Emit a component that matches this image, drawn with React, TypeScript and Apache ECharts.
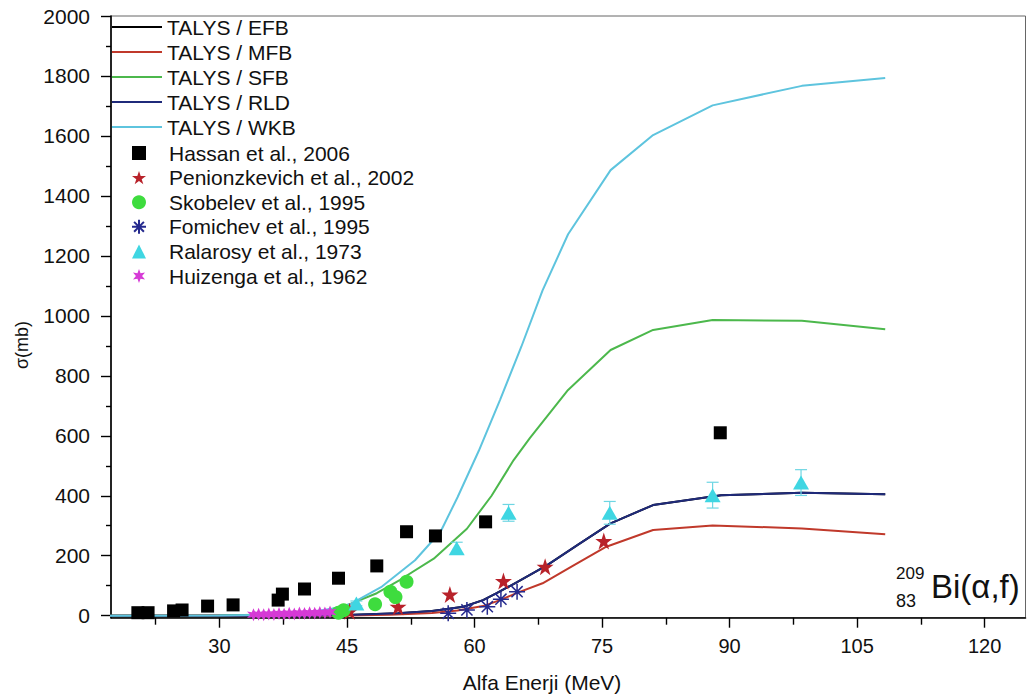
import React, { useEffect, useRef } from "react";
import * as echarts from "echarts";

// Axis ranges and tick positions
const xMin = 17.24;
const xMax = 124.8;
const yMin = -6.7;
const yMax = 2000;
const xMajorTicks = [30, 45, 60, 75, 90, 105, 120];
const xMinorTicks = [22.5, 37.5, 52.5, 67.5, 82.5, 97.5, 112.5];
const yMajorTicks = [0, 200, 400, 600, 800, 1000, 1200, 1400, 1600, 1800, 2000];
const yMinorTicks = [100, 300, 500, 700, 900, 1100, 1300, 1500, 1700, 1900];

// TALYS model curves (alpha energy in MeV, cross section in mb)
const efbE = [17, 40, 45, 51, 55, 58.7, 61, 62.6, 65, 68.5, 72.4, 76, 81, 89, 98.5, 108.3];
const efbS = [0, 0, 2, 8, 16, 30, 52, 75, 112, 168, 241, 308, 369, 402, 410, 405];

const mfbE = [17, 40, 45, 50, 55, 58, 61, 63, 65, 68, 71.5, 75.5, 81, 88, 98.5, 108.3];
const mfbS = [0, 0, 1, 3, 9, 17, 32, 52, 76, 108, 165, 230, 286, 301, 291, 272];

const sfbE = [17, 30, 38, 42, 44.6, 48.5, 51.2, 55.2, 59.1, 62, 64.6, 66.5, 71, 76, 81, 88, 98.5, 108.3];
const sfbS = [0, 1, 5, 15, 30, 75, 119, 190, 290, 400, 519, 592, 753, 886, 953, 986, 984, 955];

const rldE = [17, 40, 45, 51, 55, 58.7, 61, 62.6, 65, 68.5, 72.4, 76, 81, 89, 98.5, 108.3];
const rldS = [0, 0, 2, 8, 16, 30, 52, 75, 112, 168, 241, 308, 369, 402, 410, 405];

const wkbE = [17, 30, 35, 40, 43, 45.5, 49, 53, 56, 58, 60.5, 63, 65.5, 68, 71, 76, 81, 88, 98.5, 108.3];
const wkbS = [0, 1, 3, 10, 22, 40, 95, 185, 280, 395, 550, 720, 897, 1085, 1272, 1486, 1603, 1702, 1767, 1793];

// Experimental data
const hassanE = [20.4, 21.6, 24.6, 25.6, 28.6, 31.6, 36.9, 37.4, 40.0, 44.0, 48.5, 52.0, 55.4, 61.3, 88.9];
const hassanS = [10, 10, 16, 19, 32, 36, 52, 72, 89, 125, 166, 280, 266, 313, 610];

const penionE = [45.3, 51.0, 57.1, 63.4, 68.3, 75.2];
const penionS = [15, 30, 71, 116, 163, 249];

const skobelevE = [44.0, 44.6, 48.3, 50.1, 50.7, 52.0];
const skobelevS = [10, 18, 38, 80, 62, 113];

const fomichevE = [56.9, 59.1, 61.5, 63.1, 65.0];
const fomichevS = [8, 19, 30, 55, 80];

const ralarosyE = [46.1, 57.9, 64.0, 75.9, 88.0, 98.4];
const ralarosyS = [41, 225, 343, 343, 402, 444];
const ralarosyErr = [8, 20, 28, 38, 43, 43];

const huizengaE = [34.0, 34.6, 35.2, 35.8, 36.4, 37.0, 37.6, 38.2, 38.8, 39.4, 40.0, 40.6, 41.2, 41.8, 42.4, 43.0];
const huizengaS = [3, 5, 3, 6, 4, 7, 5, 8, 6, 9, 7, 10, 8, 11, 9, 12];

const lineNames = ["TALYS / EFB", "TALYS / MFB", "TALYS / SFB", "TALYS / RLD", "TALYS / WKB"];
const pointNames = [
  "Hassan et al., 2006",
  "Penionzkevich et al., 2002",
  "Skobelev et al., 1995",
  "Fomichev et al., 1995",
  "Ralarosy et al., 1973",
  "Huizenga et al., 1962",
];

const STAR5 =
  "path://M50,0 L61.8,35.1 L98.8,35.1 L68.9,56.8 L80.2,91.9 L50,70.2 L19.8,91.9 L31.1,56.8 L1.2,35.1 L38.2,35.1 Z";
const ASTERISK = "path://M50,0 L50,100 M0,50 L100,50 M15,15 L85,85 M15,85 L85,15";
const STAR6 =
  "path://M50,0 L61,31 L93,25 L72,50 L93,75 L61,69 L50,100 L39,69 L7,75 L28,50 L7,25 L39,31 Z";

const FONT = "'Liberation Sans', Arial, Helvetica, sans-serif";

const pairs = (xs: number[], ys: number[]) => xs.map((x, i) => [x, ys[i]]);

export default function App() {
  const ref = useRef<HTMLDivElement>(null);

  useEffect(() => {
    if (!ref.current) return;
    const chart = echarts.init(ref.current, undefined, { renderer: "svg" });

    const lineSeries = (name: string, xs: number[], ys: number[], color: string, width = 2) => ({
      name,
      type: "line",
      data: pairs(xs, ys),
      symbol: "none",
      showSymbol: false,
      smooth: false,
      lineStyle: { color, width },
      itemStyle: { color },
      z: 2,
    });

    const option: any = {
      animation: false,
      backgroundColor: "#ffffff",
      grid: {
        left: 111,
        right: 3.5,
        top: 16,
        bottom: 80.3,
        show: true,
        borderColor: "#666",
        borderWidth: 1,
        backgroundColor: "transparent",
      },
      xAxis: [
        {
          type: "value",
          min: xMin,
          max: xMax,
          position: "bottom",
          axisLine: { onZero: false, lineStyle: { color: "#000", width: 1.6 } },
          axisTick: { customValues: xMajorTicks, length: 10, lineStyle: { color: "#000", width: 1.4 } },
          axisLabel: {
            customValues: xMajorTicks,
            margin: 18,
            color: "#111",
            fontSize: 20,
            fontFamily: FONT,
            formatter: (v: number) => String(v),
          },
          splitLine: { show: false },
        },
        {
          type: "value",
          min: xMin,
          max: xMax,
          position: "bottom",
          axisLine: { show: false, onZero: false },
          axisTick: { customValues: xMinorTicks, length: 7, lineStyle: { color: "#000", width: 1.4 } },
          axisLabel: { show: false },
          splitLine: { show: false },
        },
      ],
      yAxis: [
        {
          type: "value",
          min: yMin,
          max: yMax,
          position: "left",
          axisLine: { show: true, onZero: false, lineStyle: { color: "#000", width: 1.6 } },
          axisTick: { show: true, customValues: yMajorTicks, length: 10, lineStyle: { color: "#000", width: 1.4 } },
          axisLabel: {
            customValues: yMajorTicks,
            margin: 21,
            color: "#111",
            fontSize: 21,
            fontFamily: FONT,
            formatter: (v: number) => String(v),
          },
          splitLine: { show: false },
        },
        {
          type: "value",
          min: yMin,
          max: yMax,
          position: "left",
          axisLine: { show: false, onZero: false },
          axisTick: { show: true, customValues: yMinorTicks, length: 5, lineStyle: { color: "#000", width: 1.4 } },
          axisLabel: { show: false },
          splitLine: { show: false },
        },
      ],
      legend: [
        {
          data: lineNames.map((name) => ({ name, icon: "rect" })),
          orient: "vertical",
          left: 112,
          top: 16.5,
          padding: 0,
          itemWidth: 50,
          itemHeight: 2,
          itemGap: 4,
          selectedMode: false,
          textStyle: { fontSize: 21, fontFamily: FONT, color: "#111" },
        },
        {
          data: pointNames,
          orient: "vertical",
          left: 131,
          top: 142.5,
          padding: 0,
          itemWidth: 14,
          itemHeight: 14,
          itemGap: 3.6,
          selectedMode: false,
          textStyle: { fontSize: 21, fontFamily: FONT, color: "#111", padding: [0, 0, 0, 18] },
        },
      ],
      graphic: [
        {
          type: "text",
          x: 22,
          y: 345,
          rotation: Math.PI / 2,
          style: {
            text: "σ(mb)",
            fontSize: 18,
            fontFamily: FONT,
            fill: "#111",
            align: "center",
            verticalAlign: "middle",
          },
        },
        {
          type: "text",
          x: 542,
          y: 682,
          style: {
            text: "Alfa Enerji (MeV)",
            fontSize: 21,
            fontFamily: FONT,
            fill: "#111",
            align: "center",
            verticalAlign: "middle",
          },
        },
        {
          type: "text",
          x: 896,
          y: 573,
          style: { text: "209", fontSize: 17, fontFamily: FONT, fill: "#111", align: "left", verticalAlign: "middle" },
        },
        {
          type: "text",
          x: 896,
          y: 601,
          style: { text: "83", fontSize: 18, fontFamily: FONT, fill: "#111", align: "left", verticalAlign: "middle" },
        },
        {
          type: "text",
          x: 931,
          y: 586,
          style: { text: "Bi(α,f)", fontSize: 33, fontFamily: FONT, fill: "#111", align: "left", verticalAlign: "middle" },
        },
      ],
      series: [
        lineSeries(lineNames[0], efbE, efbS, "#000000"),
        lineSeries(lineNames[1], mfbE, mfbS, "#c0392b"),
        lineSeries(lineNames[2], sfbE, sfbS, "#4cb84c"),
        lineSeries(lineNames[3], rldE, rldS, "#1f2a7a"),
        lineSeries(lineNames[4], wkbE, wkbS, "#5ec4de"),
        {
          name: "ralarosy-errors",
          type: "custom",
          encode: { x: 0, y: 1 },
          data: ralarosyE.map((e, i) => [e, ralarosyS[i], ralarosyErr[i]]),
          renderItem: (_params: any, api: any) => {
            const x = api.value(0);
            const y = api.value(1);
            const e = api.value(2);
            const top = api.coord([x, y + e]);
            const bot = api.coord([x, y - e]);
            const hw = 6;
            const style = { stroke: "#6ed6e3", lineWidth: 1.2 };
            return {
              type: "group",
              children: [
                { type: "line", shape: { x1: top[0], y1: top[1], x2: bot[0], y2: bot[1] }, style },
                { type: "line", shape: { x1: top[0] - hw, y1: top[1], x2: top[0] + hw, y2: top[1] }, style },
                { type: "line", shape: { x1: bot[0] - hw, y1: bot[1], x2: bot[0] + hw, y2: bot[1] }, style },
              ],
            };
          },
          z: 3,
        },
        {
          name: pointNames[0],
          type: "scatter",
          data: pairs(hassanE, hassanS),
          symbol: "rect",
          symbolSize: 13,
          itemStyle: { color: "#000000", opacity: 1 },
          z: 4,
        },
        {
          name: pointNames[1],
          type: "scatter",
          data: pairs(penionE, penionS),
          symbol: STAR5,
          symbolSize: 17,
          itemStyle: { color: "#b8222a", opacity: 1 },
          z: 4,
        },
        {
          name: pointNames[2],
          type: "scatter",
          data: pairs(skobelevE, skobelevS),
          symbol: "circle",
          symbolSize: 14,
          itemStyle: { color: "#3edc3e", opacity: 1 },
          z: 4,
        },
        {
          name: pointNames[3],
          type: "scatter",
          data: pairs(fomichevE, fomichevS),
          symbol: ASTERISK,
          symbolSize: 16,
          itemStyle: { color: "transparent", borderColor: "#252a8e", borderWidth: 1.5, opacity: 1 },
          z: 4,
        },
        {
          name: pointNames[4],
          type: "scatter",
          data: pairs(ralarosyE, ralarosyS),
          symbol: "triangle",
          symbolSize: [16, 14],
          itemStyle: { color: "#3fd6e2", opacity: 1 },
          z: 4,
        },
        {
          name: pointNames[5],
          type: "scatter",
          data: pairs(huizengaE, huizengaS),
          symbol: STAR6,
          symbolSize: 13,
          itemStyle: { color: "#d63ad6", opacity: 1 },
          z: 4,
        },
      ],
    };

    chart.setOption(option);
    return () => chart.dispose();
  }, []);

  return (
    <div
      ref={ref}
      style={{ position: "fixed", left: 0, top: 0, width: 1029, height: 698, background: "#fff" }}
    />
  );
}
